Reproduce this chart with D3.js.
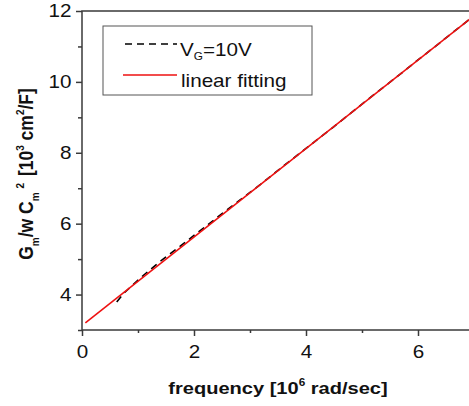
<!DOCTYPE html>
<html>
<head>
<meta charset="utf-8">
<script src="https://cdn.jsdelivr.net/npm/d3@7"></script>
<style>
  body { margin: 0; background: #fff; }
  svg { display: block; font-family: "Liberation Sans", Arial, sans-serif; }
</style>
</head>
<body>
<div id="chart"></div>
<script>
// measured data, V_G = 10V
let freq = [0.62, 0.75, 0.9, 1.05, 1.2, 1.4, 1.6, 1.8, 2.0, 2.2, 2.4, 2.6, 2.8, 3.0,
  3.3, 3.6, 3.9, 4.2, 4.5, 4.8, 5.1, 5.4, 5.7, 6.0, 6.3, 6.6, 6.9];
let gm = [3.79, 4.04, 4.26, 4.48, 4.68, 4.94, 5.18, 5.42, 5.67, 5.91, 6.16, 6.40, 6.64, 6.88,
  7.25, 7.63, 8.00, 8.37, 8.74, 9.12, 9.50, 9.87, 10.24, 10.62, 10.99, 11.37, 11.74];

// linear fit end points
let fitX = [0.06, 6.95];
let fitY = [3.2, 11.8];

let xTicks = [0, 2, 4, 6];
let xMinor = [1, 3, 5];
let yTicks = [4, 6, 8, 10, 12];
let yMinor = [3, 5, 7, 9, 11];

let W = 469, H = 406;
let margin = { top: 11, right: -5, bottom: 76, left: 82 };
let width = W - margin.left - margin.right,
  height = H - margin.top - margin.bottom;

// the original picture is a bit wider than tall, so text is stretched sideways
let sx = 1.18;

let svg = d3.select('#chart')
  .append('svg')
  .attr('width', W)
  .attr('height', H)
  .append('g')
  .attr('transform', `translate(${margin.left}, ${margin.top})`);

let x = d3.scaleLinear().domain([0, 7]).range([0, width]);
let y = d3.scaleLinear().domain([3, 12]).range([height, 0]);

let axisColor = '#3a3a3a';

// frame
svg.append('rect')
  .attr('width', width)
  .attr('height', height)
  .attr('fill', 'none')
  .attr('stroke', axisColor)
  .attr('stroke-width', 1.5);

// x axis
svg.append('g')
  .attr('class', 'xaxis')
  .attr('transform', `translate(0,${height})`)
  .call(d3.axisBottom(x).tickValues(xTicks).tickSize(6).tickPadding(10).tickFormat(d3.format('d')));
svg.append('g')
  .attr('transform', `translate(0,${height})`)
  .call(d3.axisBottom(x).tickValues(xMinor).tickSize(3).tickFormat(''));

// y axis
svg.append('g')
  .attr('class', 'yaxis')
  .call(d3.axisLeft(y).tickValues(yTicks).tickSize(6).tickPadding(3).tickFormat(d3.format('d')));
svg.append('g')
  .call(d3.axisLeft(y).tickValues(yMinor).tickSize(4).tickFormat(''));

svg.selectAll('.domain').remove();
svg.selectAll('.tick line').attr('stroke', axisColor).attr('stroke-width', 1.5);
svg.selectAll('.tick text')
  .attr('fill', '#111')
  .attr('transform', `scale(${sx},1)`)
  .style('font-family', '"Liberation Sans", Arial, sans-serif')
  .style('font-size', '17.5px');

// data (dashed black) and fit (red)
let line = d3.line().x((d) => x(d[0])).y((d) => y(d[1]));

svg.append('path')
  .datum(freq.map((f, i) => [f, gm[i]]))
  .attr('d', line)
  .attr('fill', 'none')
  .attr('stroke', '#000')
  .attr('stroke-width', 1.6)
  .attr('stroke-dasharray', '7,5');

svg.append('path')
  .datum(fitX.map((f, i) => [f, fitY[i]]))
  .attr('d', line)
  .attr('fill', 'none')
  .attr('stroke', '#ee1111')
  .attr('stroke-width', 1.6);

// legend
let leg = svg.append('g').attr('transform', 'translate(21, 15)');
leg.append('rect')
  .attr('width', 209)
  .attr('height', 69)
  .attr('fill', '#fff')
  .attr('stroke', '#555')
  .attr('stroke-width', 1);
leg.append('line')
  .attr('x1', 22).attr('x2', 74).attr('y1', 18).attr('y2', 18)
  .attr('stroke', '#000').attr('stroke-width', 1.6).attr('stroke-dasharray', '7,5');
leg.append('line')
  .attr('x1', 20).attr('x2', 74).attr('y1', 49).attr('y2', 49)
  .attr('stroke', '#ee1111').attr('stroke-width', 1.6);

let t1 = leg.append('text')
  .attr('transform', `translate(77, 30) scale(${sx},1)`)
  .style('font-size', '17.5px').attr('fill', '#111');
t1.append('tspan').text('V');
t1.append('tspan').attr('dy', 4).style('font-size', '10px').text('G');
t1.append('tspan').attr('dy', -4).text('=10V');

leg.append('text')
  .attr('transform', `translate(78, 61) scale(${sx},1)`)
  .style('font-size', '17.5px').attr('fill', '#111')
  .text('linear fitting');

// x title
let xt = svg.append('text')
  .attr('transform', `translate(${x(3.5)}, ${height + 64}) scale(${sx},1)`)
  .attr('text-anchor', 'middle')
  .style('font-size', '17px')
  .style('font-weight', 'bold')
  .attr('fill', '#111');
xt.append('tspan').text('frequency [10');
xt.append('tspan').attr('dy', -8).style('font-size', '10px').text('6');
xt.append('tspan').attr('dy', 8).text(' rad/sec]');

// y title
let yt = svg.append('text')
  .attr('transform', `translate(-49, 163) rotate(-90) scale(1,${sx})`)
  .attr('text-anchor', 'middle')
  .style('font-size', '17.5px')
  .style('font-weight', 'bold')
  .attr('fill', '#111');
yt.append('tspan').text('G');
yt.append('tspan').attr('dy', 5).style('font-size', '10px').text('m');
yt.append('tspan').attr('dy', -5).text('/w C');
yt.append('tspan').attr('dy', 5).style('font-size', '10px').text('m');
yt.append('tspan').attr('dy', -13).attr('dx', 4).style('font-size', '10px').text('2');
yt.append('tspan').attr('dy', 8).attr('dx', 2).text(' [10');
yt.append('tspan').attr('dy', -8).style('font-size', '10px').text('3');
yt.append('tspan').attr('dy', 8).text(' cm');
yt.append('tspan').attr('dy', -8).style('font-size', '10px').text('2');
yt.append('tspan').attr('dy', 8).text('/F]');
</script>
</body>
</html>
